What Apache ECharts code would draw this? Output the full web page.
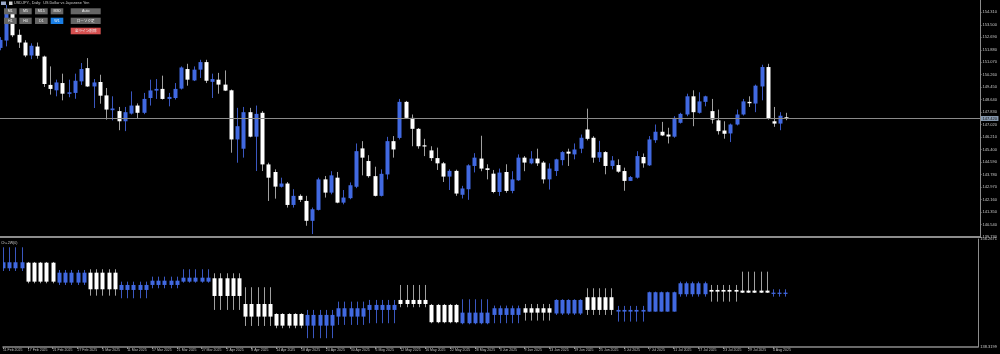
<!DOCTYPE html>
<html><head><meta charset="utf-8">
<script src="https://cdn.jsdelivr.net/npm/echarts@6/dist/echarts.min.js"></script>
<style>html,body{margin:0;padding:0;background:#000}#c{width:1000px;height:354px}</style>
</head><body><div id="c"></div>
<script>
const dates = ['11 Feb 2025','12 Feb 2025','13 Feb 2025','14 Feb 2025','17 Feb 2025','18 Feb 2025','19 Feb 2025','20 Feb 2025','21 Feb 2025','24 Feb 2025','25 Feb 2025','26 Feb 2025','27 Feb 2025','28 Feb 2025',
'3 Mar 2025','4 Mar 2025','5 Mar 2025','6 Mar 2025','7 Mar 2025','10 Mar 2025','11 Mar 2025','12 Mar 2025','13 Mar 2025','14 Mar 2025','17 Mar 2025','18 Mar 2025','19 Mar 2025','20 Mar 2025','21 Mar 2025','24 Mar 2025','25 Mar 2025','26 Mar 2025','27 Mar 2025','28 Mar 2025','31 Mar 2025',
'1 Apr 2025','2 Apr 2025','3 Apr 2025','4 Apr 2025','7 Apr 2025','8 Apr 2025','9 Apr 2025','10 Apr 2025','11 Apr 2025','14 Apr 2025','15 Apr 2025','16 Apr 2025','17 Apr 2025','18 Apr 2025','21 Apr 2025','22 Apr 2025','23 Apr 2025','24 Apr 2025','25 Apr 2025','28 Apr 2025','29 Apr 2025','30 Apr 2025',
'1 May 2025','2 May 2025','5 May 2025','6 May 2025','7 May 2025','8 May 2025','9 May 2025','12 May 2025','13 May 2025','14 May 2025','15 May 2025','16 May 2025','19 May 2025','20 May 2025','21 May 2025','22 May 2025','23 May 2025','26 May 2025','27 May 2025','28 May 2025','29 May 2025','30 May 2025',
'2 Jun 2025','3 Jun 2025','4 Jun 2025','5 Jun 2025','6 Jun 2025','9 Jun 2025','10 Jun 2025','11 Jun 2025','12 Jun 2025','13 Jun 2025','16 Jun 2025','17 Jun 2025','18 Jun 2025','19 Jun 2025','20 Jun 2025','23 Jun 2025','24 Jun 2025','25 Jun 2025','26 Jun 2025','27 Jun 2025','30 Jun 2025',
'1 Jul 2025','2 Jul 2025','3 Jul 2025','4 Jul 2025','7 Jul 2025','8 Jul 2025','9 Jul 2025','10 Jul 2025','11 Jul 2025','14 Jul 2025','15 Jul 2025','16 Jul 2025','17 Jul 2025','18 Jul 2025','21 Jul 2025','22 Jul 2025','23 Jul 2025','24 Jul 2025','25 Jul 2025','28 Jul 2025','29 Jul 2025','30 Jul 2025','31 Jul 2025',
'1 Aug 2025','4 Aug 2025','5 Aug 2025','6 Aug 2025'];

const opens = [152.00,152.48,154.40,152.85,152.35,151.51,152.09,151.44,149.60,149.25,
149.72,149.02,149.08,149.83,150.69,149.50,149.79,148.92,147.96,147.90,
147.24,147.74,148.26,147.79,148.75,149.23,149.34,148.69,148.75,149.36,
150.63,149.89,150.59,151.08,149.80,149.94,149.62,149.25,146.06,145.46,
147.83,146.24,147.79,144.44,143.95,142.99,143.20,141.81,142.40,142.07,
140.78,141.49,143.47,142.61,143.58,141.96,142.25,142.99,145.48,144.66,
143.68,142.40,143.79,145.95,146.16,148.50,147.46,146.75,145.68,145.35,
144.85,144.51,143.65,144.02,142.47,142.83,144.34,144.82,144.19,143.84,
142.65,143.95,142.72,143.41,144.88,144.51,144.82,144.56,143.47,144.01,
144.72,145.27,145.09,145.46,146.71,146.17,144.88,145.24,144.34,144.40,
144.01,143.37,143.58,144.92,144.38,146.01,146.56,146.38,146.24,147.14,
147.68,148.86,147.79,148.50,147.90,147.30,146.64,146.45,147.03,147.68,
148.50,148.39,149.50,150.76,147.24,147.09,147.50];
const highs = [152.70,154.80,154.50,153.20,152.50,152.30,152.35,151.50,150.80,149.94,
150.33,149.94,150.33,151.02,151.34,149.98,150.26,149.40,148.86,148.17,
148.17,149.18,148.40,149.08,149.94,149.98,150.20,149.08,149.72,150.80,
150.97,150.80,151.23,151.23,150.33,150.38,150.54,149.30,148.11,148.17,
148.11,148.26,147.90,144.55,144.12,143.58,143.30,142.83,142.50,142.40,
141.64,143.58,143.69,144.00,143.95,142.78,143.27,145.80,145.95,145.04,
144.29,144.12,146.23,146.28,148.69,148.56,147.68,146.80,146.10,145.62,
145.53,144.60,144.12,144.10,143.05,144.45,145.17,146.30,144.45,144.08,
144.17,144.45,144.00,145.09,144.98,145.30,145.46,144.66,144.51,144.81,
145.30,145.46,145.80,146.38,148.06,146.27,145.97,145.30,144.98,144.77,
144.23,143.69,145.30,145.15,146.28,147.03,147.20,146.82,147.57,147.79,
149.03,149.25,149.12,148.90,148.69,148.00,147.24,147.09,148.00,148.69,
148.86,149.62,150.91,150.97,148.17,147.83,147.79];
const lows = [151.85,152.10,152.70,152.00,151.40,151.27,151.30,149.47,148.97,148.86,
148.60,148.80,148.70,149.60,149.47,148.10,148.38,147.35,147.30,146.66,
146.60,147.68,147.42,147.70,148.26,148.69,148.65,148.21,148.65,149.30,
149.55,149.85,150.05,149.72,148.75,149.03,149.20,145.20,144.55,144.88,
146.20,144.01,144.01,142.07,142.22,142.94,141.64,141.64,142.00,140.46,
139.92,141.45,142.29,142.50,141.92,141.85,142.18,142.90,143.73,143.58,
142.36,142.36,143.47,144.88,146.06,147.40,145.62,145.46,144.98,144.66,
144.08,143.30,142.78,142.40,142.23,142.14,143.92,144.00,143.47,142.57,
142.40,142.60,142.57,143.37,144.00,144.45,144.34,143.20,142.81,143.69,
144.38,144.34,144.77,145.17,146.00,144.55,144.60,143.80,144.12,143.90,
142.73,143.37,143.52,144.23,144.34,145.84,146.28,145.80,146.17,147.09,
147.57,146.92,147.74,148.21,147.09,146.38,146.11,145.89,146.97,147.61,
148.17,147.83,148.60,147.35,146.88,146.66,147.31];
const closes = [152.52,154.40,152.82,152.35,151.51,152.14,151.49,149.66,149.34,149.76,
149.03,149.12,149.87,150.63,149.50,149.76,148.90,148.00,148.07,147.24,
147.83,148.26,147.79,148.69,149.24,149.34,148.69,148.82,149.34,150.73,
149.94,150.59,151.08,149.87,149.98,149.62,149.23,146.06,146.92,147.83,
146.24,147.72,144.44,143.58,143.00,143.20,141.81,142.40,142.14,140.78,
141.53,143.47,142.61,143.73,141.96,142.29,143.09,145.30,144.88,143.68,
142.40,143.83,145.95,145.41,148.50,147.46,146.75,145.62,145.62,144.85,
144.51,143.65,144.02,142.55,142.88,144.38,144.88,144.17,144.08,142.65,
143.91,142.72,143.47,144.88,144.56,144.82,144.51,143.47,144.17,144.77,
145.24,145.14,145.41,146.17,146.10,144.88,145.24,144.34,144.70,143.97,
143.37,143.62,144.98,144.51,146.06,146.56,146.32,146.25,147.46,147.72,
148.86,147.83,148.53,148.86,147.35,146.60,146.43,147.03,147.68,148.53,
148.41,149.55,150.76,147.40,147.09,147.60,147.42];

// weekly candles (lower panel), one per week; week 0 = 10-14 Feb
const wOpen  = [151.40,152.33,149.02,150.67,147.80,148.63,149.18,149.74,145.47,143.81,141.87,143.37,144.48,146.14,145.31,142.27,143.65,144.76,143.89,146.59,144.20,144.20,147.09,147.80,147.69,147.14];
const wHigh  = [154.89,152.45,151.12,151.24,149.18,150.01,151.24,150.57,148.25,143.93,144.48,145.86,146.14,148.63,145.47,146.25,145.20,145.47,146.25,148.08,145.15,147.52,149.18,148.63,150.84,147.91];
const wLow   = [150.95,148.91,148.63,146.85,146.42,148.08,149.01,144.48,141.82,141.44,139.78,141.99,142.27,144.93,142.27,142.10,142.27,142.71,143.65,143.65,142.54,144.20,146.69,145.86,147.30,146.69];
const wClose = [152.40,149.18,150.67,147.91,148.63,149.34,149.84,146.80,143.37,141.87,143.65,144.76,145.31,145.47,142.44,144.03,144.76,144.03,146.14,144.48,144.48,147.42,148.91,147.52,147.35,147.35];

const yTicks = [139.730,140.540,141.350,142.160,142.970,143.780,144.590,145.400,146.210,147.020,147.830,148.640,149.450,150.260,151.070,151.880,152.690,153.500,154.310];
const subTicks = [138.3199,156.2671];

const PAD = 31;
const cats = dates.concat(Array.from({length: PAD}, (_, k) => 'pad' + k));

const mainData = dates.map((d, i) => [i, opens[i], highs[i], lows[i], closes[i]]);
const subData = dates.map((d, i) => { const w = Math.floor((i + 1) / 5); return [i, wOpen[w], wHigh[w], wLow[w], wClose[w]]; });

const UP_BODY = '#4169e1', DN_BODY = '#ffffff', UP_WICK = '#3a57c0', DN_WICK = '#a0a0a0';
function renderCandle(params, api) {
  const i = api.value(0), o = api.value(1), h = api.value(2), l = api.value(3), c = api.value(4);
  const po = api.coord([i, o]), pc = api.coord([i, c]), ph = api.coord([i, h]), pl = api.coord([i, l]);
  const x = Math.round(po[0]);
  const up = c > o;
  const top = Math.min(po[1], pc[1]);
  const bh = Math.max(1.2, Math.abs(po[1] - pc[1]));
  return { type: 'group', children: [
    { type: 'line', shape: { x1: x + 0.5, y1: ph[1], x2: x + 0.5, y2: pl[1] }, style: { stroke: up ? UP_WICK : DN_WICK, lineWidth: 1 } },
    { type: 'rect', shape: { x: x - 1.5, y: top, width: 4, height: bh }, style: { fill: up ? UP_BODY : DN_BODY } }
  ]};
}

const last = closes[closes.length - 1];
const FONT = 'Liberation Sans';
const GRAY = '#8c8c8c';

function btn(x, y, w, h, label, color, jp) {
  return [
    { type: 'rect', z: 100, shape: { x: x, y: y, width: w, height: h }, style: { fill: color } },
    { type: 'text', z: 101, x: x + w / 2, y: y + h / 2, style: { text: label, fill: '#f0f0f0', fontSize: 3.6, fontFamily: jp ? 'Noto Sans CJK JP' : FONT, align: 'center', verticalAlign: 'middle' } }
  ];
}
const BG = '#666666';
const graphics = [].concat(
  [{ type: 'rect', z: 100, shape: { x: 1, y: 1.5, width: 5, height: 3.5 }, style: { fill: '#9aa8c8' } },
   { type: 'rect', z: 100, shape: { x: 9, y: 1.5, width: 3.5, height: 3.5 }, style: { fill: '#d0d0d0' } },
   { type: 'text', z: 101, x: 14, y: 3.4, style: { text: 'USDJPY., Daily:  US Dollar vs Japanese Yen', fill: '#c8c8c8', fontSize: 3.8, fontFamily: FONT, verticalAlign: 'middle' } }],
  btn(4, 8.3, 12.7, 6, 'M1', BG), btn(19.3, 8.3, 12.4, 6, 'M5', BG), btn(35, 8.3, 12.7, 6, 'M15', BG), btn(50.7, 8.3, 12.6, 6, 'M30', BG),
  btn(70.7, 8.3, 30, 6, 'Auto', BG),
  btn(4, 17.7, 12.7, 6.3, 'H1', BG), btn(19.3, 17.7, 12.4, 6.3, 'H4', BG), btn(35, 17.7, 12.7, 6.3, 'D1', BG), btn(50.7, 17.7, 12.6, 6.3, 'W1', '#1a7fe6'),
  btn(70.7, 17.7, 30, 6.3, 'ローソク足', BG, true),
  btn(70.7, 27.7, 30, 6.6, '全ライン削除', '#d65050', true),
  [{ type: 'text', z: 101, x: 1, y: 242.5, style: { text: 'Ch+2W(0)', fill: '#c8c8c8', fontSize: 3.6, fontFamily: FONT, verticalAlign: 'middle' } }]
);

const showIdx = (idx) => idx % 4 === 0 && idx < dates.length;

const chart = echarts.init(document.getElementById('c'), null, { renderer: 'canvas' });
chart.setOption({
  backgroundColor: '#000000',
  animation: false,
  grid: [
    { left: 0, right: 20, top: 0, height: 237 },
    { left: 0, right: 20, top: 239, height: 108 }
  ],
  xAxis: [
    { type: 'category', gridIndex: 0, data: cats, boundaryGap: false,
      axisLine: { show: true, lineStyle: { color: GRAY, width: 2 } }, axisTick: { show: false }, axisLabel: { show: false }, splitLine: { show: false } },
    { type: 'category', gridIndex: 1, data: cats, boundaryGap: false,
      axisLine: { show: true, lineStyle: { color: GRAY, width: 1.5 } },
      axisTick: { show: true, interval: showIdx, length: 2, lineStyle: { color: GRAY } },
      axisLabel: { show: true, interval: showIdx, align: 'left', color: '#c0c0c0', fontSize: 3.5, fontFamily: FONT, margin: 1.5 },
      splitLine: { show: false } }
  ],
  yAxis: [
    { type: 'value', gridIndex: 0, position: 'right', min: 139.73, max: 155.11,
      axisLine: { show: true, lineStyle: { color: GRAY, width: 1 } },
      axisTick: { show: true, customValues: yTicks, length: 1.5, lineStyle: { color: GRAY } },
      axisLabel: { show: true, customValues: yTicks, formatter: v => v.toFixed(3), color: '#c8c8c8', fontSize: 4, fontFamily: FONT, margin: 2.5 },
      splitLine: { show: false } },
    { type: 'value', gridIndex: 1, position: 'right', min: subTicks[0], max: subTicks[1],
      axisLine: { show: true, lineStyle: { color: GRAY, width: 1 } },
      axisTick: { show: false },
      axisLabel: { show: true, customValues: subTicks, formatter: v => v.toFixed(4), color: '#c8c8c8', fontSize: 4, fontFamily: FONT, margin: 2.5 },
      splitLine: { show: false } }
  ],
  series: [
    { type: 'custom', name: 'USDJPY', xAxisIndex: 0, yAxisIndex: 0, data: mainData, renderItem: renderCandle, clip: true,
      encode: { x: 0, y: [1, 2, 3, 4] },
      markLine: { silent: true, symbol: 'none', animation: false, data: [{ yAxis: last }],
        lineStyle: { color: '#8a8a8a', width: 1, type: 'solid' },
        label: { show: true, position: 'end', distance: 1, formatter: last.toFixed(3), backgroundColor: '#8496ab', color: '#111', fontSize: 4, fontFamily: FONT, padding: [0.5, 1.5] } } },
    { type: 'custom', name: 'Weekly', xAxisIndex: 1, yAxisIndex: 1, data: subData, renderItem: renderCandle, clip: true,
      encode: { x: 0, y: [1, 2, 3, 4] } }
  ],
  graphic: graphics
});
</script>
</body></html>
